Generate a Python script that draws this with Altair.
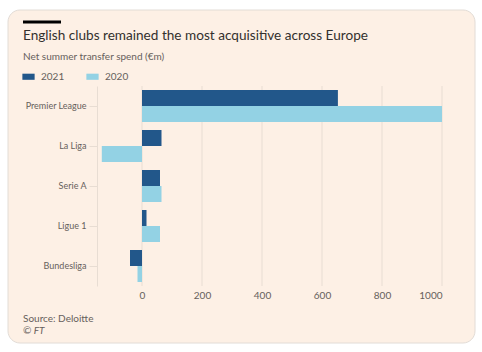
import altair as alt
import pandas as pd

leagues = ["Premier League", "La Liga", "Serie A", "Ligue 1", "Bundesliga"]
spend_2021 = [653, 65, 60, 15, -40]
spend_2020 = [1000, -134, 65, 60, -15]
years = ["2021", "2020"]
x_ticks = [0, 200, 400, 600, 800, 1000]

title = "English clubs remained the most acquisitive across Europe"
subtitle = "Net summer transfer spend (€m)"
source = "Source: Deloitte"
credit = "© FT"

rows = []
for i, lg in enumerate(leagues):
    rows.append({"league": lg, "year": "2021", "value": spend_2021[i]})
    rows.append({"league": lg, "year": "2020", "value": spend_2020[i]})
df = pd.DataFrame(rows)

FONT = "Lato"
PEACH = "#fdf0e5"
GRID = "#e8ddd3"
TXT = "#66605c"

one = alt.Data(values=[{}])

card = alt.Chart(one).mark_rect(
    fill=PEACH, stroke="#e2dcd6", strokeWidth=1, cornerRadius=12
).encode(x=alt.value(-89), x2=alt.value(378), y=alt.value(-76), y2=alt.value(257))

grid = alt.Chart(pd.DataFrame({"t": x_ticks})).mark_rule(
    color=GRID, strokeWidth=1
).encode(
    x=alt.X("t:Q", scale=alt.Scale(domain=[-150, 1000], nice=False, zero=False)),
    y=alt.value(0), y2=alt.value(200)
)

bars = alt.Chart(df).mark_bar().encode(
    x=alt.X("value:Q", scale=alt.Scale(domain=[-150, 1000], nice=False),
            axis=alt.Axis(values=x_ticks, format="d", title=None, grid=False,
                          domain=False, ticks=False, labelFont=FONT,
                          labelFontSize=10, labelColor=TXT, labelPadding=4,
                          zindex=1)),
    y=alt.Y("league:N", sort=leagues,
            scale=alt.Scale(paddingInner=0.2, paddingOuter=0.1),
            axis=alt.Axis(title=None, domain=True, domainColor=GRID,
                          tickColor=GRID, tickSize=8, labelPadding=3,
                          labelFont=FONT, labelFontSize=9, labelColor=TXT,
                          grid=False, zindex=1)),
    yOffset=alt.YOffset("year:N", sort=years),
    color=alt.Color("year:N", sort=years,
                    scale=alt.Scale(domain=years, range=["#22578a", "#93d2e4"]),
                    legend=alt.Legend(title=None, orient="none", legendX=-75,
                                      legendY=-16, direction="horizontal",
                                      symbolType="M-1,-0.5L1,-0.5L1,0.5L-1,0.5Z",
                                      symbolSize=150, symbolStrokeWidth=0,
                                      labelFont=FONT, labelFontSize=10,
                                      labelColor=TXT, columnPadding=21,
                                      labelOffset=6)),
)

def txt(s, x, y, size, color, italic=False):
    return alt.Chart(one).mark_text(
        text=s, align="left", baseline="middle", font=FONT, fontSize=size,
        color=color, fontStyle="italic" if italic else "normal"
    ).encode(x=alt.value(x), y=alt.value(y))

bar_deco = alt.Chart(one).mark_rule(color="#000000", strokeWidth=3, strokeCap="butt").encode(
    x=alt.value(-74), x2=alt.value(-36), y=alt.value(-64), y2=alt.value(-64)
)

chart = alt.layer(
    card, grid, bars, bar_deco,
    txt(title, -74, -50, 13.6, "#33302e"),
    txt(subtitle, -74, -29, 10, TXT),
    txt(source, -74, 233, 10, TXT),
    txt(credit, -74, 245, 10, TXT, italic=True),
).properties(
    width=345, height=200,
    autosize=alt.AutoSizeParams(type="none"),
    padding={"left": 97, "top": 86, "right": 40, "bottom": 66},
    background="white",
).configure_view(stroke=None)

chart.save("out.html", embed_options={"renderer": "svg", "actions": False})
